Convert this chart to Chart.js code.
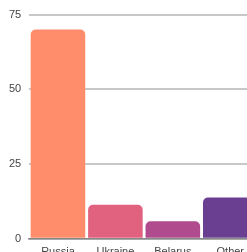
<!DOCTYPE html>
<html>
<head>
<meta charset="utf-8">
<script src="https://cdn.jsdelivr.net/npm/chart.js@4/dist/chart.umd.min.js"></script>
<style>
  html, body { margin: 0; padding: 0; overflow: hidden; background: #fff; }
  #chart { display: block; }
</style>
</head>
<body>
<canvas id="chart" width="259" height="266"></canvas>
<script>
// values
const countries = ['Russia', 'Ukraine', 'Belarus', 'Other']
const shares = [70, 11.4, 5.9, 13.8]
const barColors = ['#ff8c6a', '#e0627f', '#b04b8d', '#6a3e90']
const yTicks = [0, 25, 50, 75]

// eslint-disable-next-line no-unused-vars
const barChart = new Chart(document.getElementById('chart'), {
  type: 'bar',
  data: {
    labels: countries,
    datasets: [{
      data: shares,
      backgroundColor: barColors,
      borderRadius: { topLeft: 5, topRight: 5 },
      borderSkipped: 'bottom',
      barPercentage: 0.95,
      categoryPercentage: 1.0
    }]
  },
  options: {
    responsive: false,
    animation: false,
    layout: { padding: { top: 6, left: 1, right: 0, bottom: 0 } },
    plugins: {
      legend: { display: false },
      tooltip: { enabled: false }
    },
    scales: {
      x: {
        grid: { display: false, drawTicks: false },
        border: { display: true, color: '#888', width: 1.5 },
        ticks: { color: '#444', padding: 7, font: { family: 'Liberation Sans', size: 11 } }
      },
      y: {
        min: 0,
        max: 75,
        afterBuildTicks: axis => { axis.ticks = yTicks.map(v => ({ value: v })) },
        grid: { color: '#c8c8c8', lineWidth: 2, drawTicks: false },
        border: { display: false },
        ticks: { color: '#444', padding: 8, font: { family: 'Liberation Sans', size: 11 } }
      }
    }
  }
})
</script>
</body>
</html>
